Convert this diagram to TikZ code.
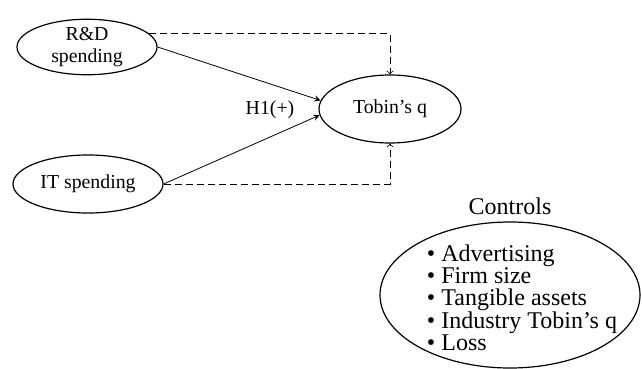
\documentclass[tikz,border=0pt]{standalone}
\usepackage{fontspec}
\setmainfont{Liberation Serif}
\usetikzlibrary{positioning,shapes.geometric}

\begin{document}
\begin{tikzpicture}[x=0.5pt,y=-0.5pt,every node/.style={font=\fontsize{9.9}{10.9}\selectfont},var/.style={draw,ellipse,line width=0.6pt,inner sep=0pt,align=center},link/.style={-stealth,line width=0.4pt},dlink/.style={->,line width=0.4pt,dash pattern=on 3.5pt off 2pt}]
\useasboundingbox (0,0) rectangle (642,369);
\node[var,minimum width=70pt,minimum height=26pt](rd) at (87,47) {R\&D\\spending};
\node[var,minimum width=75pt,minimum height=29pt](it) at (88,184) {IT spending};
\node[var,minimum width=71pt,minimum height=34pt](tq) at (390,109) {Tobin's q};
\node[var,minimum width=130pt,minimum height=73pt](ctrl) at (510,295) {};
\node[align=left,font=\fontsize{12}{10.8}\selectfont](ctrllist) at (522,298) {\textbullet\ Advertising\\\textbullet\ Firm size\\\textbullet\ Tangible assets\\\textbullet\ Industry Tobin's q\\\textbullet\ Loss};
\node[above=0pt of ctrl,font=\fontsize{12}{13}\selectfont](ctrltitle) {Controls};
\node(h1) at (270,110) {H1(+)};
\draw[link] (rd.east) -- (tq.173);
\draw[link] (it.east) -- (tq.185);
\draw[dlink] (rd.12) -| (tq.north);
\draw[dlink] (it.east) -| (tq.south);
\end{tikzpicture}
\end{document}
